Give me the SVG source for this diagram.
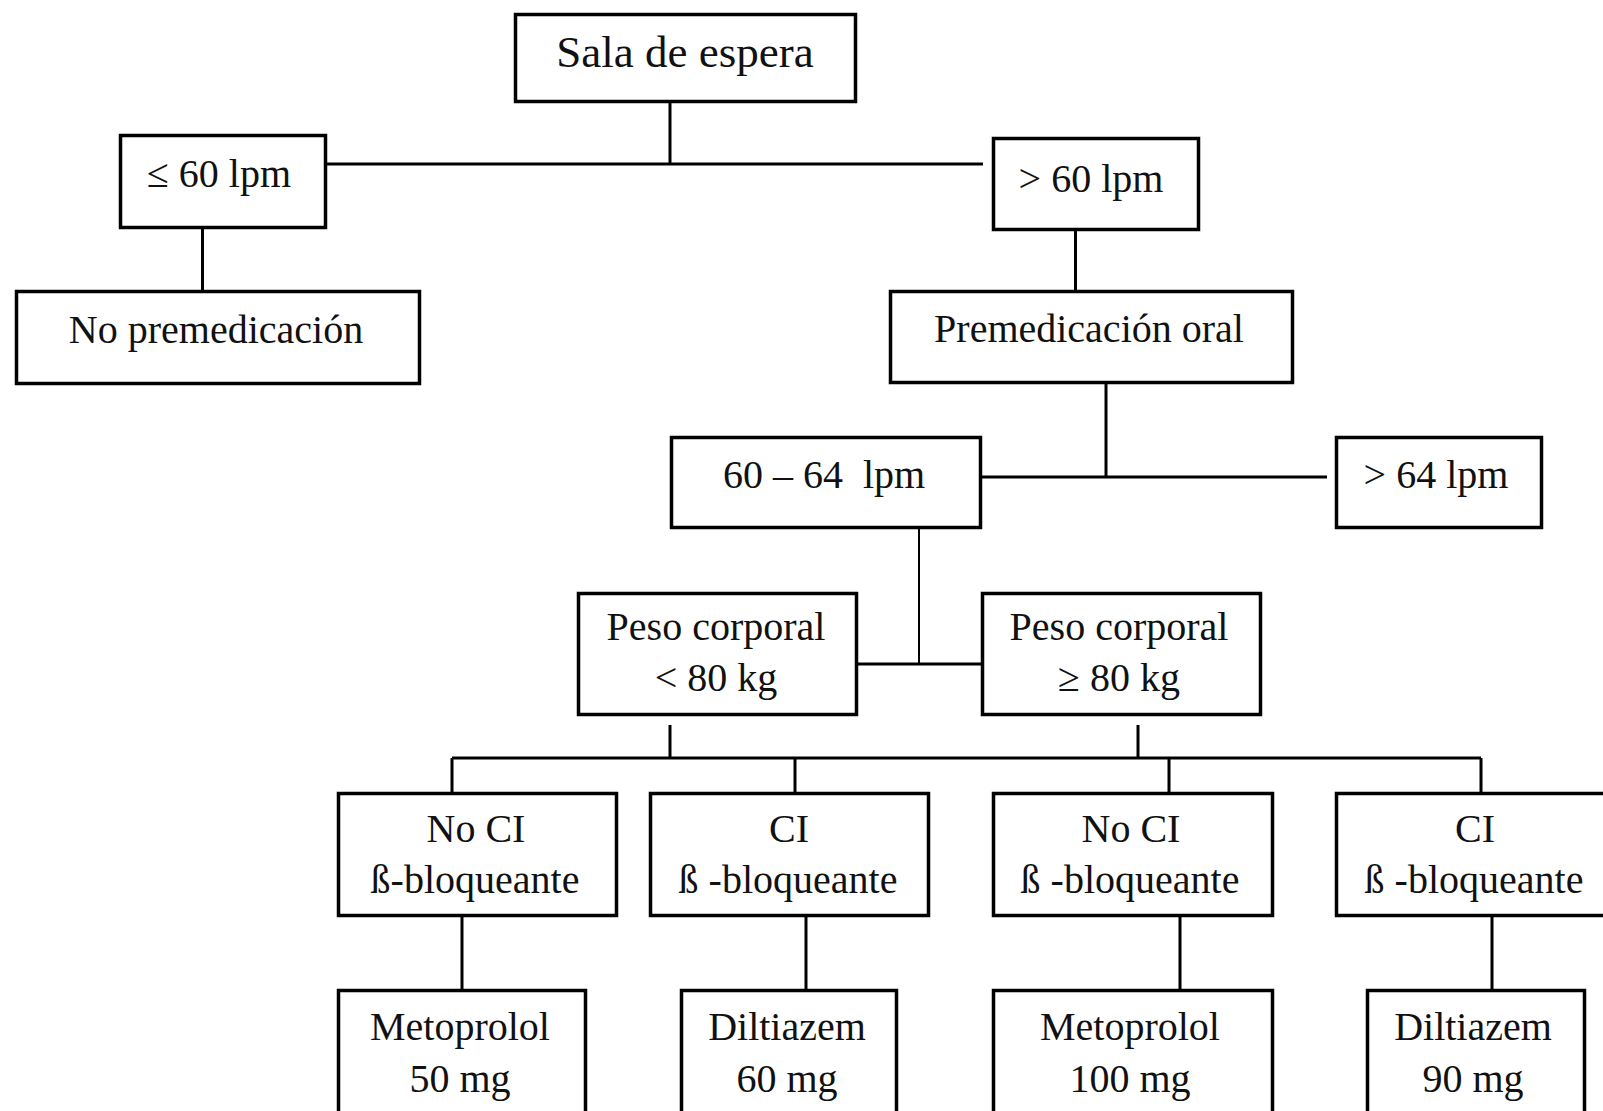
<svg xmlns="http://www.w3.org/2000/svg" width="1603" height="1111" viewBox="0 0 1603 1111">
<style>
.box{fill:#fff;stroke:#000;stroke-width:3.5}
.t{font-family:"Liberation Serif","Times New Roman",serif;font-size:40px;fill:#111;text-anchor:middle}
.big{font-size:45px}
.c{stroke:#000;stroke-width:3;fill:none}
.thin{stroke-width:2}
</style>
<rect width="1603" height="1111" fill="#fff"/>
<g id="connectors">
<line class="c" x1="670" y1="103" x2="670" y2="164"/>
<line class="c" x1="327" y1="164" x2="983" y2="164"/>
<line class="c" x1="202.5" y1="229" x2="202.5" y2="290"/>
<line class="c" x1="1075.5" y1="227" x2="1075.5" y2="290"/>
<line class="c" x1="1106" y1="384" x2="1106" y2="477"/>
<line class="c" x1="982" y1="477" x2="1327" y2="477"/>
<line class="c thin" x1="919" y1="529" x2="919" y2="664"/>
<line class="c" x1="858" y1="664" x2="981" y2="664"/>
<line class="c" x1="670" y1="725" x2="670" y2="758"/>
<line class="c" x1="1138" y1="725" x2="1138" y2="758"/>
<line class="c" x1="452" y1="758" x2="1481" y2="758"/>
<line class="c" x1="452" y1="758" x2="452" y2="792"/>
<line class="c" x1="795" y1="758" x2="795" y2="792"/>
<line class="c" x1="1169" y1="758" x2="1169" y2="792"/>
<line class="c" x1="1481" y1="758" x2="1481" y2="792"/>
<line class="c" x1="462" y1="917" x2="462" y2="989"/>
<line class="c" x1="806" y1="917" x2="806" y2="989"/>
<line class="c" x1="1180" y1="917" x2="1180" y2="989"/>
<line class="c" x1="1492" y1="917" x2="1492" y2="989"/>
</g>
<g id="sala">
<rect class="box" x="515.5" y="14.5" width="340" height="87"/>
<text class="t big" x="685" y="67">Sala de espera</text>
</g>
<g id="le60">
<rect class="box" x="120.5" y="135.5" width="205" height="92"/>
<text class="t" x="219" y="187">≤ 60 lpm</text>
</g>
<g id="gt60">
<rect class="box" x="993.5" y="138.5" width="205" height="91"/>
<text class="t" x="1091" y="192">&gt; 60 lpm</text>
</g>
<g id="nopremed">
<rect class="box" x="16.5" y="291.5" width="403" height="92"/>
<text class="t" x="216" y="343">No premedicación</text>
</g>
<g id="premed">
<rect class="box" x="890.5" y="291.5" width="402" height="91"/>
<text class="t" x="1089" y="342">Premedicación oral</text>
</g>
<g id="r6064">
<rect class="box" x="671.5" y="437.5" width="309" height="90"/>
<text class="t" x="824" y="488" xml:space="preserve">60 – 64  lpm</text>
</g>
<g id="gt64">
<rect class="box" x="1336.5" y="437.5" width="205" height="90"/>
<text class="t" x="1436" y="488">&gt; 64 lpm</text>
</g>
<g id="pesolt80">
<rect class="box" x="578.5" y="593.5" width="278" height="121"/>
<text class="t" x="716" y="640">Peso corporal</text>
<text class="t" x="716" y="691">&lt; 80 kg</text>
</g>
<g id="pesoge80">
<rect class="box" x="982.5" y="593.5" width="278" height="121"/>
<text class="t" x="1119" y="640">Peso corporal</text>
<text class="t" x="1119" y="691">≥ 80 kg</text>
</g>
<g id="noci1">
<rect class="box" x="338.5" y="793.5" width="278" height="122"/>
<text class="t" x="476" y="842">No CI</text>
<text class="t" x="475" y="893">ß-bloqueante</text>
</g>
<g id="ci1">
<rect class="box" x="650.5" y="793.5" width="278" height="122"/>
<text class="t" x="789" y="842">CI</text>
<text class="t" x="788" y="893">ß -bloqueante</text>
</g>
<g id="noci2">
<rect class="box" x="993.5" y="793.5" width="279" height="122"/>
<text class="t" x="1131" y="842">No CI</text>
<text class="t" x="1130" y="893">ß -bloqueante</text>
</g>
<g id="ci2">
<rect class="box" x="1336.5" y="793.5" width="276" height="122"/>
<text class="t" x="1475" y="842">CI</text>
<text class="t" x="1474" y="893">ß -bloqueante</text>
</g>
<g id="meto50">
<rect class="box" x="338.5" y="990.5" width="247" height="140"/>
<text class="t" x="460" y="1040">Metoprolol</text>
<text class="t" x="460" y="1092">50 mg</text>
</g>
<g id="dilt60">
<rect class="box" x="681.5" y="990.5" width="215" height="140"/>
<text class="t" x="787" y="1040">Diltiazem</text>
<text class="t" x="787" y="1092">60 mg</text>
</g>
<g id="meto100">
<rect class="box" x="993.5" y="990.5" width="279" height="140"/>
<text class="t" x="1130" y="1040">Metoprolol</text>
<text class="t" x="1130" y="1092">100 mg</text>
</g>
<g id="dilt90">
<rect class="box" x="1367.5" y="990.5" width="217" height="140"/>
<text class="t" x="1473" y="1040">Diltiazem</text>
<text class="t" x="1473" y="1092">90 mg</text>
</g>
</svg>
